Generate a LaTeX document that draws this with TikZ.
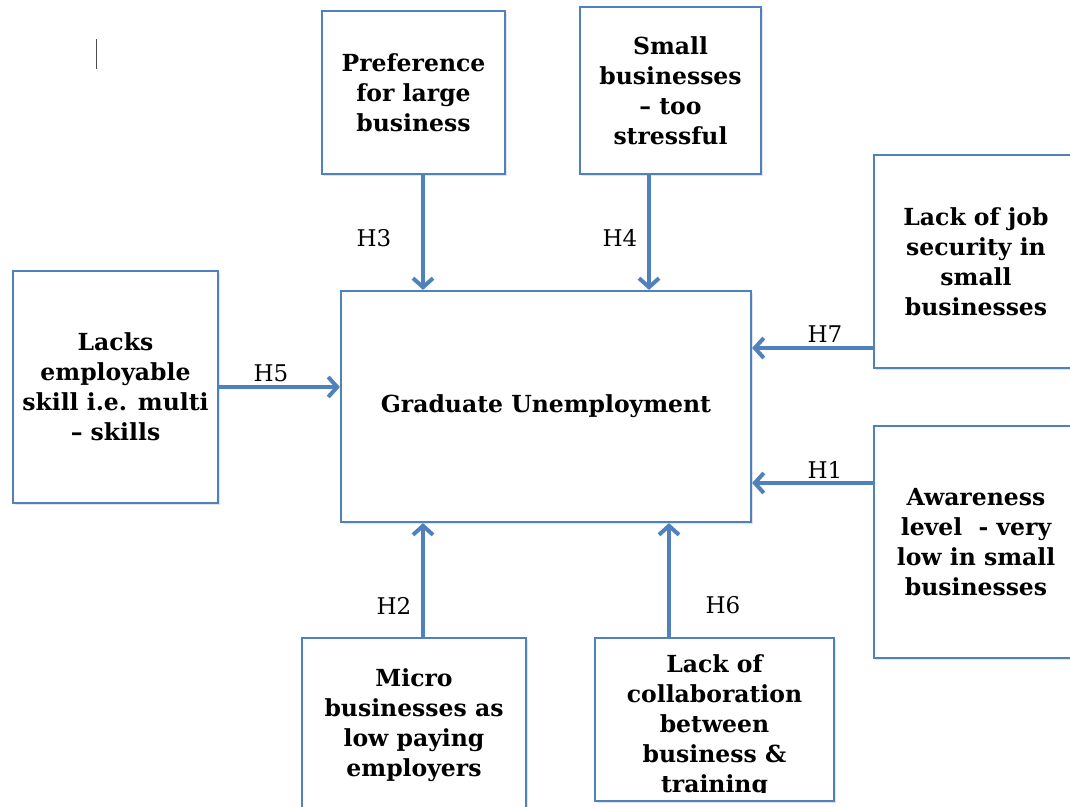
\documentclass[tikz,border=0pt]{standalone}
\usepackage{fontspec}
\setmainfont{DejaVu Serif}
\usetikzlibrary{arrows.meta,shadows}
\definecolor{boxblue}{HTML}{4F81BD}
\newcommand\boxfont{\fontsize{23.5}{30}\selectfont\bfseries}
\newcommand\labfont{\fontsize{23}{30}\selectfont}
\tikzset{
  box/.style={draw=boxblue, line width=2.2pt, fill=white, align=center, font=\boxfont, inner sep=0pt,
    drop shadow={shadow xshift=2pt, shadow yshift=-2pt, opacity=0.22}},
  txt/.style={align=center, font=\boxfont, inner sep=0pt},
  arr/.style={draw=boxblue, line width=4pt, -{Straight Barb[length=9pt,width=20pt]}},
  hlab/.style={font=\labfont, inner sep=0pt},
}
\begin{document}
\begin{tikzpicture}[x=1pt,y=-1pt]
\useasboundingbox (0,0) rectangle (1070,806);
\clip (0,0) rectangle (1070,806);
% cursor mark
\draw[black!70, line width=1pt] (96,39) -- (96,69);
% boxes
\node[box, minimum width=183pt, minimum height=163pt] (pref) at (413.5,92.5) {Preference\\for large\\business};
\node[box, minimum width=181pt, minimum height=167pt] (small) at (670.5,90.5) {Small\\businesses\\-- too\\stressful};
\node[box, minimum width=204pt, minimum height=213pt] (job) at (976,261.5) {Lack of job\\security in\\small\\businesses};
\node[box, minimum width=205pt, minimum height=232pt] (lacks) at (115.5,387) {Lacks\\employable\\skill i.e. multi\\-- skills};
\node[box, minimum width=410pt, minimum height=231pt] (main) at (546,406.5) {Graduate Unemployment};
\node[box, minimum width=204pt, minimum height=232pt] (aware) at (976,542) {Awareness\\level~~- very\\low in small\\businesses};
\node[box, minimum width=224pt, minimum height=174pt] (micro) at (414,725) {Micro\\businesses as\\low paying\\employers};
\node[box, minimum width=239pt, minimum height=163pt] (collab) at (714.5,719.5) {};
\begin{scope}
  \clip (collab.north west) rectangle ([yshift=10pt]collab.south east);
  \node[txt] (collabtext) at (714.5,726) {Lack of\\collaboration\\between\\business \&\\training};
\end{scope}
% arrows
\draw[arr] ([xshift=9.5pt]pref.south) -- ([xshift=9.5pt]pref.south |- main.north);
\draw[arr] ([xshift=-21.5pt]small.south) -- ([xshift=-21.5pt]small.south |- main.north);
\draw[arr] (lacks.east) -- (lacks.east -| main.west);
\draw[arr] ([yshift=-86.5pt]job.west) -- ([yshift=-86.5pt]job.west -| main.east);
\draw[arr] ([yshift=59pt]aware.west) -- ([yshift=59pt]aware.west -| main.east);
\draw[arr] ([xshift=9pt]micro.north) -- ([xshift=9pt]micro.north |- main.south);
\draw[arr] ([xshift=-45.5pt]collab.north) -- ([xshift=-45.5pt]collab.north |- main.south);
% labels
\node[hlab] (h3) at (374,238) {H3};
\node[hlab] (h4) at (620,238) {H4};
\node[hlab] (h5) at (271,373) {H5};
\node[hlab] (h7) at (825,334) {H7};
\node[hlab] (h1) at (825,470) {H1};
\node[hlab] (h2) at (394,606) {H2};
\node[hlab] (h6) at (723,605) {H6};
\end{tikzpicture}
\end{document}
